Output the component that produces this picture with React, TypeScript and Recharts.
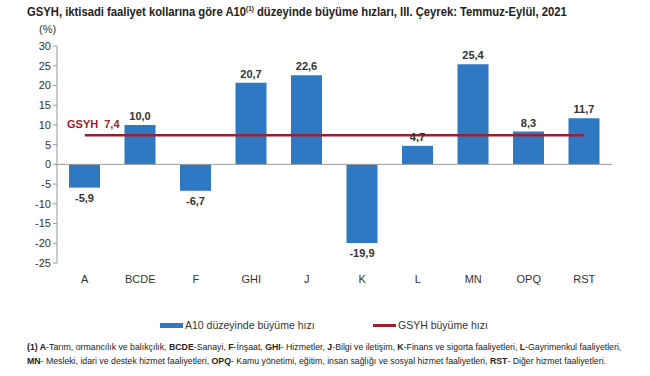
import React from "react";
import {
  ComposedChart,
  Bar,
  Line,
  XAxis,
  YAxis,
  ReferenceLine,
  LabelList,
} from "recharts";

const categories = ["A", "BCDE", "F", "GHI", "J", "K", "L", "MN", "OPQ", "RST"];
const sectorGrowth = [-5.9, 10.0, -6.7, 20.7, 22.6, -19.9, 4.7, 25.4, 8.3, 11.7];
const gdpGrowth = 7.4;
const yTicks = [-25, -20, -15, -10, -5, 0, 5, 10, 15, 20, 25, 30];

const data = categories.map((c, i) => ({ cat: c, val: sectorGrowth[i], gsyh: gdpGrowth }));

const BLUE = "#2F79C3";
const RED = "#A01C2E";
const FONT = "'Liberation Sans', Arial, sans-serif";

const fmt = (v: number) => v.toFixed(1).replace(".", ",");

const BarLabel = (props: any) => {
  const { x, y, width, height, value } = props;
  const cx = x + width / 2;
  const neg = value < 0;
  return (
    <text
      x={cx}
      y={neg ? Math.max(y, y + height) + 14 : Math.min(y, y + height) - 5}
      textAnchor="middle"
      fontSize={11}
      fontWeight={700}
      fill="#333"
      fontFamily={FONT}
    >
      {fmt(value)}
    </text>
  );
};

export default function App() {
  return (
    <div style={{ position: "absolute", left: 0, top: 0, width: 650, height: 376, background: "#fff", fontFamily: FONT }}>
      <div style={{ position: "absolute", left: 27, top: 5, fontSize: 12.5, fontWeight: 700, color: "#222", whiteSpace: "nowrap", transform: "scaleX(0.9)", transformOrigin: "0 0" }}>
        GSYH, iktisadi faaliyet kollarına göre A10<sup style={{ fontSize: 7 }}>(1)</sup> düzeyinde büyüme hızları, III. Çeyrek: Temmuz-Eylül, 2021
      </div>
      <div style={{ position: "absolute", left: 39, top: 23, fontSize: 11, color: "#333" }}>(%)</div>
      <div style={{ position: "absolute", top: 0, left: 0 }}>
        <ComposedChart
          width={650}
          height={290}
          data={data}
          margin={{ top: 46, right: 38, left: 27, bottom: 7 }}
        >
          <XAxis
            dataKey="cat"
            axisLine={false}
            tickLine={false}
            height={20}
            tick={{ fontSize: 11, fill: "#333", fontFamily: FONT }}
            tickMargin={6}
          />
          <YAxis
            domain={[-25, 30]}
            ticks={yTicks}
            width={30}
            interval={0}
            axisLine={{ stroke: "#999" }}
            tickLine={{ stroke: "#999" }}
            tickSize={4}
            tick={{ fontSize: 11, fill: "#333", fontFamily: FONT }}
          />
          <ReferenceLine y={0} stroke="#999" />
          <Bar dataKey="val" fill={BLUE} barSize={31} isAnimationActive={false}>
            <LabelList dataKey="val" content={BarLabel} />
          </Bar>
          <Line
            dataKey="gsyh"
            stroke={RED}
            strokeWidth={2.5}
            dot={false}
            isAnimationActive={false}
          />
        </ComposedChart>
      </div>
      <div style={{ position: "absolute", left: 67, top: 118, fontSize: 11, fontWeight: 700, color: RED, whiteSpace: "nowrap", wordSpacing: 3 }}>
        GSYH 7,4
      </div>
      <div style={{ position: "absolute", left: 160, top: 319, fontSize: 10.5, color: "#333", display: "flex", alignItems: "center" }}>
        <span style={{ display: "inline-block", width: 23, height: 5, background: BLUE, marginRight: 2 }} />
        A10 düzeyinde büyüme hızı
      </div>
      <div style={{ position: "absolute", left: 373, top: 319, fontSize: 10.5, color: "#333", display: "flex", alignItems: "center" }}>
        <span style={{ display: "inline-block", width: 23, height: 3, background: RED, marginRight: 2 }} />
        GSYH büyüme hızı
      </div>
      <div style={{ position: "absolute", left: 27, top: 340, fontSize: 9.5, color: "#222", lineHeight: "14px", whiteSpace: "nowrap", transform: "scaleX(0.92)", transformOrigin: "0 0" }}>
        <div>
          <b>(1) A</b>-Tarım, ormancılık ve balıkçılık, <b>BCDE</b>-Sanayi, <b>F</b>-İnşaat, <b>GHI</b>- Hizmetler, <b>J</b>-Bilgi ve iletişim, <b>K</b>-Finans ve sigorta faaliyetleri, <b>L</b>-Gayrimenkul faaliyetleri,
        </div>
        <div>
          <b>MN</b>- Mesleki, idari ve destek hizmet faaliyetleri, <b>OPQ</b>- Kamu yönetimi, eğitim, insan sağlığı ve sosyal hizmet faaliyetleri, <b>RST</b>- Diğer hizmet faaliyetleri.
        </div>
      </div>
    </div>
  );
}
